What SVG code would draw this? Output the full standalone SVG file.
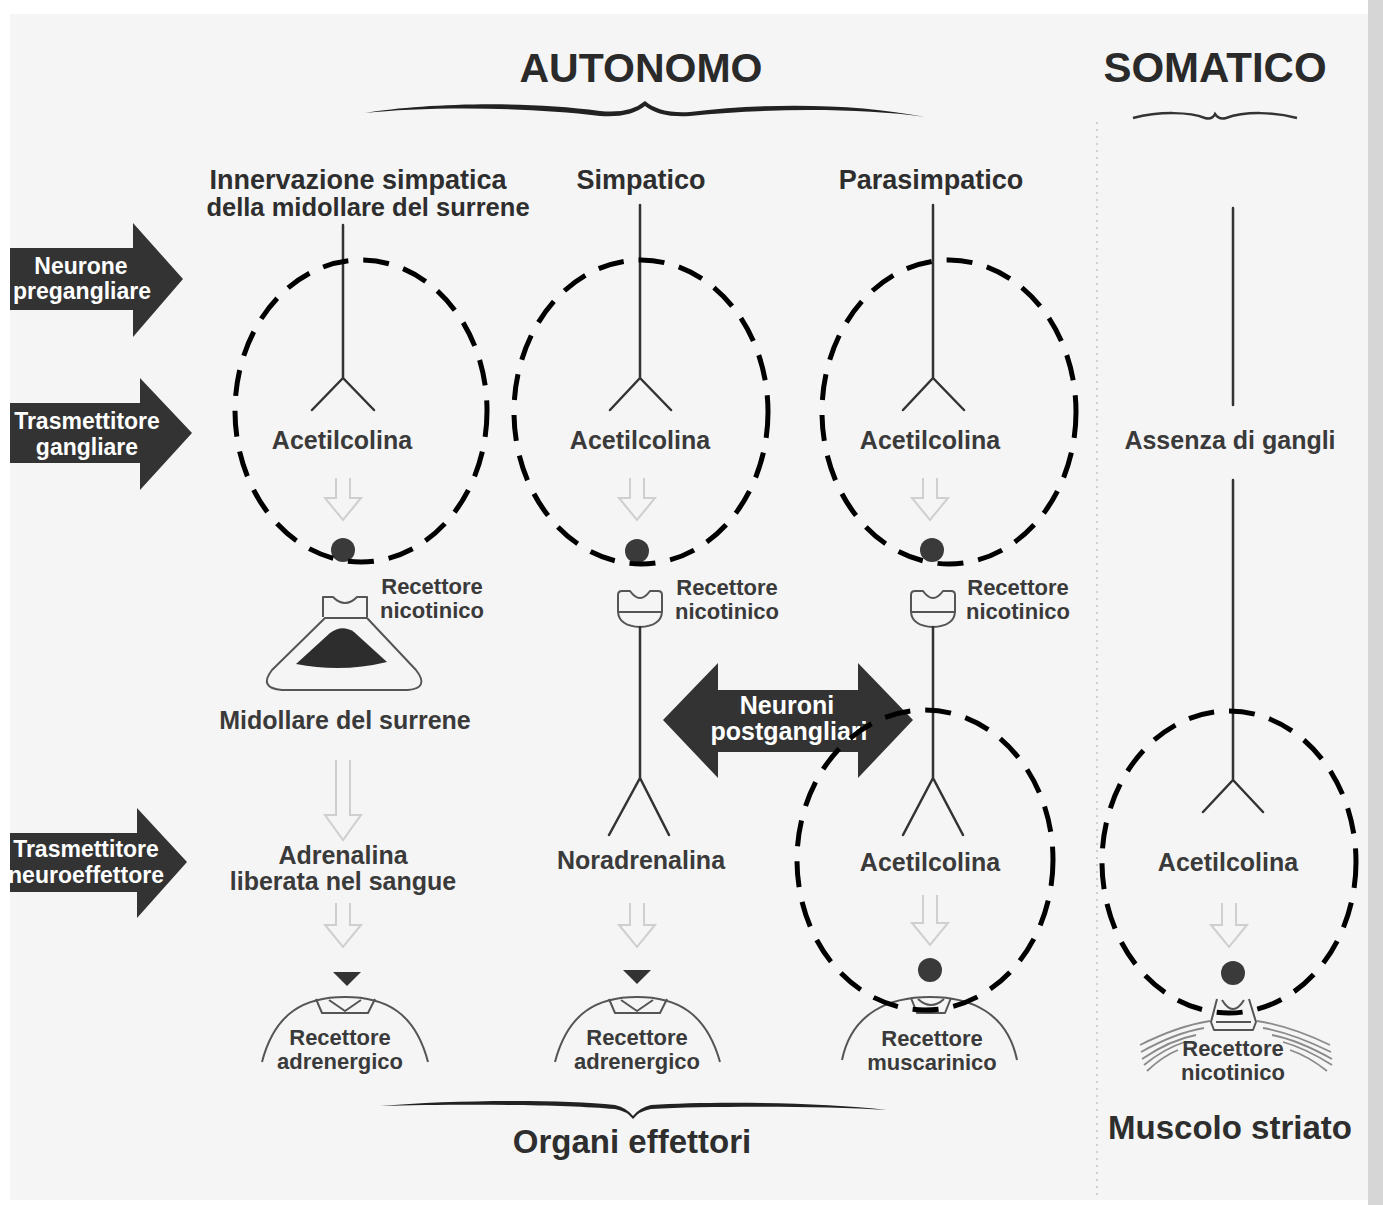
<svg xmlns="http://www.w3.org/2000/svg" width="1383" height="1205" viewBox="0 0 1383 1205">
<style>
.t{font-family:"Liberation Sans",Arial,sans-serif;font-weight:bold;fill:#3a3a3a;text-anchor:middle}
.h{font-size:27px;fill:#2e2e2e}
.l{font-size:25px}
.s{font-size:22px}
.w{font-family:"Liberation Sans",Arial,sans-serif;font-weight:bold;fill:#ffffff;text-anchor:middle;font-size:23px}
.big{font-size:41px;fill:#2a2a2a}
.ti{font-size:33px;fill:#2e2e2e}
.ax{fill:none;stroke:#333;stroke-width:2.5;stroke-linecap:round;stroke-linejoin:round}
.ha{fill:none;stroke:#cfcfcf;stroke-width:2}
.rc{fill:none;stroke:#555;stroke-width:2;stroke-linejoin:round}
.ell{fill:none;stroke:#000;stroke-width:5;stroke-dasharray:26 15}
.dot{fill:#3a3a3a}
.dark{fill:#333}
</style>
<defs>
<clipPath id="clipL"><rect x="10" y="0" width="400" height="1205"/></clipPath>
</defs>
<rect x="0" y="0" width="1383" height="1205" fill="#ffffff"/>
<rect x="10" y="14" width="1360" height="1186" fill="#f5f5f5"/>
<rect x="1368" y="0" width="15" height="1205" fill="#d6d6d6"/>
<line x1="1097" y1="122" x2="1097" y2="1195" stroke="#cfcfcf" stroke-width="2" stroke-dasharray="2 5"/>

<g id="titles">
<text class="t big" x="641" y="82">AUTONOMO</text>
<path d="M365,113 C420,104 520,100 600,111 Q630,114 645,101 Q660,114 690,112 C770,102 860,104 925,117 C860,108 770,108 690,116 Q660,118 645,106 Q630,118 600,116 C520,106 420,107 365,113 Z" fill="#222"/>
<text class="t big" x="1215" y="82" style="font-size:42px">SOMATICO</text>
<path d="M1133,118 C1160,111 1190,112 1205,118 Q1212,120 1215,114 Q1219,120 1226,118 C1245,111 1275,112 1297,118" fill="none" stroke="#333" stroke-width="2.5"/>
<text class="t ti" x="632" y="1153">Organi effettori</text>
<path d="M380,1106 C450,1100 560,1099 615,1105 Q627,1108 633,1116 Q639,1108 651,1105 C710,1101 820,1102 887,1110 C820,1106 710,1106 651,1109 Q639,1111 633,1119 Q627,1111 615,1109 C560,1104 450,1104 380,1106 Z" fill="#222"/>
<text class="t ti" x="1230" y="1139">Muscolo striato</text>
</g>

<g id="left-arrows">
<g id="arrow-pregangliare">
<path class="dark" d="M10,248 H133 V223 L183,279 L133,337 V310 H10 Z"/>
<text class="w" x="81" y="274">Neurone</text>
<text class="w" x="82" y="299">pregangliare</text>
</g>
<g id="arrow-gangliare">
<path class="dark" d="M10,403 H140 V378 L192,433 L140,490 V463 H10 Z"/>
<text class="w" x="87" y="429">Trasmettitore</text>
<text class="w" x="87" y="455">gangliare</text>
</g>
<g id="arrow-neuroeffettore">
<path class="dark" d="M10,833 H137 V808 L187,862 L137,918 V892 H10 Z"/>
<text class="w" x="86" y="857">Trasmettitore</text>
<g clip-path="url(#clipL)"><text class="w" x="86" y="883">neuroeffettore</text></g>
</g>
</g>

<g id="col1">
<text class="t h" x="358" y="189">Innervazione simpatica</text>
<text class="t h" x="368" y="216" style="font-size:25.5px">della midollare del surrene</text>
<path class="ax" d="M343,225 V378 M312,410 L343,378 L374,410"/>
<text class="t l" x="342" y="449">Acetilcolina</text>
<path class="ha" d="M336,478 V498 H325 L343,520 L361,498 H350 V478"/>
<circle class="dot" cx="343" cy="550" r="12"/>
<text class="t s" x="432" y="594">Recettore</text>
<text class="t s" x="432" y="618">nicotinico</text>
<path class="rc" d="M323,617 V597 H333 Q345,609 357,597 H367 V617"/>
<path class="rc" d="M325,618 L272,670 Q258,688 282,690 L408,690 Q430,688 416,670 L367,618 Z"/>
<path d="M296,664 L330,633 Q342,624 354,632 L387,662 Q342,673 296,664 Z" fill="#2d2d2d"/>
<text class="t l" x="345" y="729">Midollare del surrene</text>
<path class="ha" d="M336,760 V815 H325 L343,840 L361,815 H350 V760"/>
<text class="t l" x="343" y="864">Adrenalina</text>
<text class="t l" x="343" y="890">liberata nel sangue</text>
<path class="ha" d="M336,903 V925 H325 L343,947 L361,925 H350 V903"/>
<path class="dark" d="M333,972 H361 L347,986 Z"/>
<path class="rc" d="M262,1062 C275,1012 305,997 345,997 C385,997 415,1012 428,1062"/>
<path class="rc" d="M316,999 L322,1013 H368 L375,999 M329,1000 L345,1011 L361,1000"/>
<text class="t s" x="340" y="1045">Recettore</text>
<text class="t s" x="340" y="1069">adrenergico</text>
</g>

<g id="col2">
<text class="t h" x="641" y="189">Simpatico</text>
<path class="ax" d="M640,205 V378 M610,410 L640,378 L671,410"/>
<text class="t l" x="640" y="449">Acetilcolina</text>
<path class="ha" d="M630,478 V498 H619 L637,520 L655,498 H644 V478"/>
<circle class="dot" cx="637" cy="551" r="12"/>
<text class="t s" x="727" y="595">Recettore</text>
<text class="t s" x="727" y="619">nicotinico</text>
<path class="rc" d="M618,612 V595 Q618,591 622,591 H630 Q640,605 650,591 H658 Q662,591 662,595 V612 Z M618,612 Q619,626 640,627 Q661,626 662,612"/>
<path class="ax" d="M640,627 V778 M609,835 L640,778 L669,835"/>
<text class="t l" x="641" y="869">Noradrenalina</text>
<path class="ha" d="M630,903 V925 H619 L637,947 L655,925 H644 V903"/>
<path class="dark" d="M623,970 H651 L637,984 Z"/>
<path class="rc" d="M555,1062 C568,1012 598,997 637,997 C676,997 706,1012 720,1062"/>
<path class="rc" d="M609,999 L615,1013 H660 L667,999 M621,1000 L637,1011 L653,1000"/>
<text class="t s" x="637" y="1045">Recettore</text>
<text class="t s" x="637" y="1069">adrenergico</text>
</g>

<g id="col3">
<text class="t h" x="931" y="189">Parasimpatico</text>
<path class="ax" d="M933,205 V378 M903,410 L933,378 L964,410"/>
<text class="t l" x="930" y="449">Acetilcolina</text>
<path class="ha" d="M923,478 V498 H912 L930,520 L948,498 H937 V478"/>
<circle class="dot" cx="932" cy="550" r="12"/>
<text class="t s" x="1018" y="595">Recettore</text>
<text class="t s" x="1018" y="619">nicotinico</text>
<path class="rc" d="M911,612 V595 Q911,591 915,591 H923 Q933,605 943,591 H951 Q955,591 955,595 V612 Z M911,612 Q912,626 933,627 Q954,626 955,612"/>
<path class="ax" d="M933,627 V778 M903,835 L933,778 L963,835"/>
<text class="t l" x="930" y="871">Acetilcolina</text>
<path class="ha" d="M923,895 V923 H912 L930,945 L948,923 H937 V895"/>
<circle class="dot" cx="930" cy="970" r="12"/>
<path class="rc" d="M842,1060 C852,1012 890,997 930,997 C970,997 1007,1012 1017,1060"/>
<path class="rc" d="M911,998 L917,1013 H945 L951,998 M918,999 Q931,1011 944,999"/>
<text class="t s" x="932" y="1046">Recettore</text>
<text class="t s" x="932" y="1070">muscarinico</text>
</g>

<g id="col4">
<path class="ax" d="M1233,208 V405"/>
<text class="t l" x="1230" y="449">Assenza di gangli</text>
<path class="ax" d="M1233,480 V780 M1203,812 L1233,780 L1263,812"/>
<text class="t l" x="1228" y="871">Acetilcolina</text>
<path class="ha" d="M1222,903 V925 H1211 L1229,947 L1247,925 H1236 V903"/>
<circle class="dot" cx="1233" cy="973" r="12"/>
<path class="rc" d="M1217,999 L1211,1022 L1214,1030 H1253 L1256,1022 L1249,999 M1222,1000 Q1233,1018 1244,1000 M1216,1022 H1251"/>
<g fill="none" stroke="#8a8a8a" stroke-width="1.8">
<path d="M1210,1021 Q1178,1026 1140,1045"/>
<path d="M1204,1028 Q1175,1033 1141,1052"/>
<path d="M1196,1035 Q1170,1040 1142,1059"/>
<path d="M1185,1042 Q1165,1048 1144,1065"/>
<path d="M1178,1050 Q1163,1056 1147,1071"/>
<path d="M1257,1021 Q1290,1026 1330,1045"/>
<path d="M1263,1028 Q1292,1033 1331,1052"/>
<path d="M1272,1035 Q1298,1040 1332,1059"/>
<path d="M1283,1042 Q1305,1048 1332,1065"/>
<path d="M1290,1050 Q1308,1056 1327,1071"/>
</g>
<text class="t s" x="1233" y="1056">Recettore</text>
<text class="t s" x="1233" y="1080">nicotinico</text>
</g>

<g id="postgangliari">
<path class="dark" d="M663,720 L718,663 V690 H858 V663 L913,720 L858,778 V752 H718 V778 Z"/>
<text class="w" x="787" y="714" style="font-size:25px">Neuroni</text>
<text class="w" x="789" y="740" style="font-size:25px">postgangliari</text>
</g>

<g id="connectors">
<ellipse class="ell" cx="361" cy="411" rx="126" ry="151"/>
<ellipse class="ell" cx="641" cy="412" rx="127" ry="152"/>
<ellipse class="ell" cx="949" cy="412" rx="127" ry="152"/>
<ellipse class="ell" cx="925" cy="860" rx="128" ry="150"/>
<ellipse class="ell" cx="1229" cy="862" rx="127" ry="151"/>
</g>
</svg>
